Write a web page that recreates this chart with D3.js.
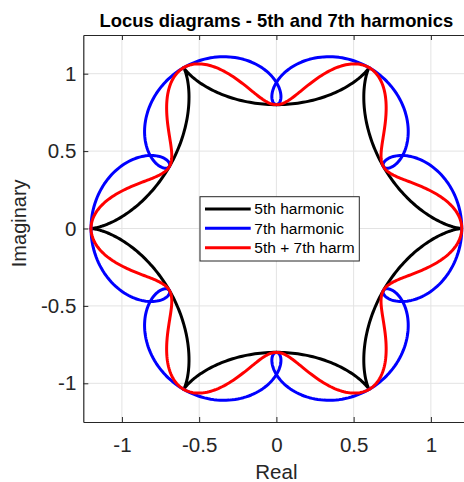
<!DOCTYPE html>
<meta charset="utf-8">
<style>
  body { margin: 0; background: #fff; }
  text { font-family: "Liberation Sans", Arial, Helvetica, sans-serif; fill: #262626; }
  .axis path, .axis line { stroke: #262626; }
  .grid line { stroke: #e3e3e3; stroke-width: 1; }
</style>
<body>
<div id="chart"></div>
<script src="https://cdn.jsdelivr.net/npm/d3@7"></script>
<script>
  // each series is the fundamental phasor plus harmonic components
  var seriesNames = ["5th harmonic", "7th harmonic", "5th + 7th harm"];
  var fundamentalAmp = 1;
  // harmonic order (negative = negative sequence) and amplitude, per series
  var harmonicOrders = [[-5], [7], [-5, 7]];
  var harmonicAmps = [[0.2], [0.2], [0.1, 0.1]];
  var nSamples = 721;

  var xTicks = [-1, -0.5, 0, 0.5, 1];
  var yTicks = [-1, -0.5, 0, 0.5, 1];
  var tickLabels = ["-1", "-0.5", "0", "0.5", "1"];
  var xLimits = [-1.25, 1.25];
  var yLimits = [-1.25, 1.25];

  var colors = ["#000000", "#0000ff", "#ff0000"];

  var W = 464, H = 482;
  var margin = { top: 35, left: 83.3 };
  var plotW = 386.2, plotH = 387;

  var svg = d3.select("#chart").append("svg")
    .attr("width", W)
    .attr("height", H);

  var x = d3.scaleLinear().domain(xLimits).range([margin.left, margin.left + plotW]);
  var y = d3.scaleLinear().domain(yLimits).range([margin.top + plotH, margin.top]);

  // grid
  var grid = svg.append("g").attr("class", "grid");
  grid.selectAll(".gx").data(xTicks).enter().append("line")
    .attr("x1", d => x(d)).attr("x2", d => x(d))
    .attr("y1", y.range()[0]).attr("y2", y.range()[1]);
  grid.selectAll(".gy").data(yTicks).enter().append("line")
    .attr("y1", d => y(d)).attr("y2", d => y(d))
    .attr("x1", x.range()[0]).attr("x2", x.range()[1]);

  // build locus points
  var theta = d3.range(nSamples).map(i => 2 * Math.PI * i / (nSamples - 1));
  var loci = seriesNames.map(function (name, s) {
    return theta.map(function (t) {
      var re = fundamentalAmp * Math.cos(t), im = fundamentalAmp * Math.sin(t);
      harmonicOrders[s].forEach(function (h, k) {
        re += harmonicAmps[s][k] * Math.cos(h * t);
        im += harmonicAmps[s][k] * Math.sin(h * t);
      });
      return [re, im];
    });
  });

  var line = d3.line().x(d => x(d[0])).y(d => y(d[1]));

  svg.append("g").selectAll("path").data(loci).enter().append("path")
    .attr("d", line)
    .attr("fill", "none")
    .attr("stroke", (d, i) => colors[i])
    .attr("stroke-width", 3)
    .attr("stroke-linejoin", "round");

  // axes, ticks pointing inside
  var fmt = (d, i) => tickLabels[i];
  svg.append("g").attr("class", "axis")
    .attr("transform", "translate(0," + y.range()[0] + ")")
    .call(d3.axisBottom(x).tickValues(xTicks).tickFormat(fmt).tickSizeInner(-5).tickSizeOuter(0).tickPadding(15.5));
  svg.append("g").attr("class", "axis")
    .attr("transform", "translate(" + x.range()[0] + ",0)")
    .call(d3.axisLeft(y).tickValues(yTicks).tickFormat(fmt).tickSizeInner(-5).tickSizeOuter(0).tickPadding(7));
  svg.append("g").attr("class", "axis")
    .attr("transform", "translate(0," + y.range()[1] + ")")
    .call(d3.axisTop(x).tickValues(xTicks).tickFormat("").tickSizeInner(-5).tickSizeOuter(0));
  svg.append("g").attr("class", "axis")
    .attr("transform", "translate(" + x.range()[1] + ",0)")
    .call(d3.axisRight(y).tickValues(yTicks).tickFormat("").tickSizeInner(-5).tickSizeOuter(0));

  svg.selectAll(".axis path").attr("stroke-width", 1.2);
  svg.selectAll(".axis .tick text").attr("font-size", 20.5).attr("fill", "#262626")
    .attr("font-family", "Liberation Sans, Arial, sans-serif");

  // labels
  var cx = (x.range()[0] + x.range()[1]) / 2;
  svg.append("text")
    .attr("x", cx).attr("y", 26.7)
    .attr("text-anchor", "middle")
    .attr("font-weight", "bold")
    .attr("font-size", 18.4)
    .style("fill", "#000")
    .text("Locus diagrams - 5th and 7th harmonics");

  svg.append("text")
    .attr("x", cx).attr("y", 479)
    .attr("text-anchor", "middle")
    .attr("font-size", 20.5)
    .text("Real");

  svg.append("text")
    .attr("transform", "translate(26,223.3) rotate(-90)")
    .attr("text-anchor", "middle")
    .attr("font-size", 20)
    .text("Imaginary");

  // legend
  var lg = svg.append("g").attr("transform", "translate(200,196.7)");
  lg.append("rect")
    .attr("width", 159.3).attr("height", 64.3)
    .attr("fill", "#fff").attr("stroke", "#262626").attr("stroke-width", 1);
  var rows = lg.selectAll(".row").data(seriesNames).enter().append("g")
    .attr("transform", (d, i) => "translate(0," + (12.3 + i * 19.35) + ")");
  rows.append("line")
    .attr("x1", 5).attr("x2", 50.7)
    .attr("stroke", (d, i) => colors[i])
    .attr("stroke-width", 3);
  rows.append("text")
    .attr("x", 54.3).attr("dy", "0.35em")
    .attr("font-size", 15.5)
    .style("fill", "#000")
    .text(d => d);
</script>
</body>
